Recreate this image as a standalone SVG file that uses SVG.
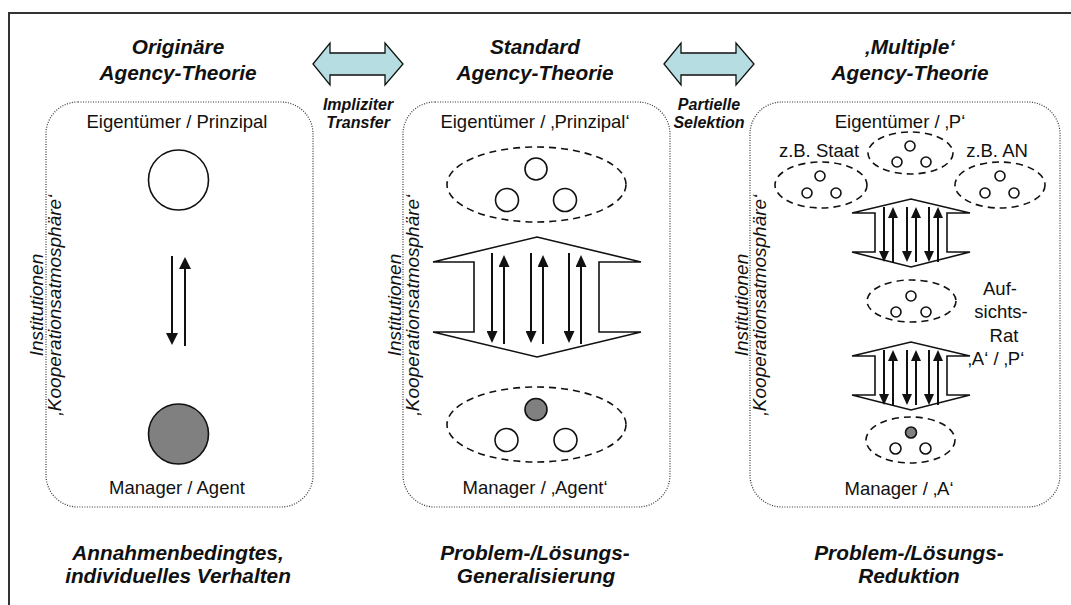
<svg xmlns="http://www.w3.org/2000/svg" width="1071" height="605" viewBox="0 0 1071 605">
<style>
.t{font-family:"Liberation Sans",Arial,sans-serif;font-size:18.5px;fill:#111;text-anchor:middle}
.ti{font-family:"Liberation Sans",Arial,sans-serif;font-size:20.8px;font-weight:bold;font-style:italic;fill:#111;text-anchor:middle}
.sm{font-family:"Liberation Sans",Arial,sans-serif;font-size:16px;font-weight:bold;font-style:italic;fill:#111;text-anchor:middle}
.vt{font-family:"Liberation Sans",Arial,sans-serif;font-size:19px;font-style:italic;fill:#111;text-anchor:middle}
.panel{fill:none;stroke:#333;stroke-width:1.2;stroke-dasharray:1 1.5}
.dash{fill:none;stroke:#111;stroke-width:1.6;stroke-dasharray:7 5}
.wc{fill:#fff;stroke:#111;stroke-width:1.6}
.gc{fill:#808080;stroke:#111;stroke-width:1.6}
.shape{fill:#fff;stroke:#111;stroke-width:1.6;stroke-linejoin:miter}
.dbl{fill:#b6dde1;stroke:#111;stroke-width:1.3}
.a1{stroke:#111;stroke-width:2;fill:none;marker-end:url(#h1)}
.a2{stroke:#111;stroke-width:2;fill:none;marker-end:url(#h2)}
.a3{stroke:#111;stroke-width:2;fill:none;marker-end:url(#h3)}
</style>
<defs>
<marker id="h1" markerUnits="userSpaceOnUse" viewBox="0 0 12 12" refX="8" refY="6" markerWidth="12" markerHeight="12" orient="auto"><path d="M0,0 L12,6 L0,12 z" fill="#111"/></marker>
<marker id="h2" markerUnits="userSpaceOnUse" viewBox="0 0 12 11" refX="8" refY="5.5" markerWidth="12" markerHeight="11" orient="auto"><path d="M0,0 L12,5.5 L0,11 z" fill="#111"/></marker>
<marker id="h3" markerUnits="userSpaceOnUse" viewBox="0 0 11 10" refX="7" refY="5" markerWidth="11" markerHeight="10" orient="auto"><path d="M0,0 L11,5 L0,10 z" fill="#111"/></marker>
</defs>
<rect x="0" y="0" width="1071" height="605" fill="#fff"/>
<rect x="9" y="13" width="1200" height="700" fill="none" stroke="#333" stroke-width="2"/>

<g id="col-left">
<text class="ti" x="178" y="54">Originäre</text>
<text class="ti" x="178" y="80">Agency-Theorie</text>
<rect class="panel" x="46" y="102" width="267" height="405" rx="32" ry="32"/>
<text class="t" x="177" y="128">Eigentümer / Prinzipal</text>
<circle class="wc" cx="178.5" cy="180" r="30"/>
<circle class="gc" cx="178.5" cy="434" r="30"/>
<text class="t" x="177" y="494">Manager / Agent</text>
<text class="vt" transform="translate(43,305) rotate(-90)">Institutionen</text>
<text class="vt" transform="translate(61,305) rotate(-90)">‚Kooperationsatmosphäre‘</text>
<text class="ti" x="178" y="560">Annahmenbedingtes,</text>
<text class="ti" x="178" y="583">individuelles Verhalten</text>
</g>

<g id="col-middle">
<text class="ti" x="535" y="54">Standard</text>
<text class="ti" x="535" y="80">Agency-Theorie</text>
<rect class="panel" x="403" y="102" width="267" height="405" rx="32" ry="32"/>
<text class="t" x="535" y="128">Eigentümer / ‚Prinzipal‘</text>
<ellipse class="dash" cx="536.5" cy="184.5" rx="89.5" ry="37.5"/>
<circle class="wc" cx="536" cy="169" r="11"/>
<circle class="wc" cx="507" cy="200" r="11.5"/>
<circle class="wc" cx="565" cy="200" r="11.5"/>
<polygon class="shape" points="433,262 537,237 641,262 599,262 599,332 641,332 537,357 433,332 474,332 474,262"/>
<ellipse class="dash" cx="536.5" cy="424.5" rx="89.5" ry="37.5"/>
<circle class="gc" cx="536" cy="409.5" r="11"/>
<circle class="wc" cx="506.5" cy="440" r="11.5"/>
<circle class="wc" cx="565.5" cy="440" r="11.5"/>
<text class="t" x="535" y="494">Manager / ‚Agent‘</text>
<text class="vt" transform="translate(401,305) rotate(-90)">Institutionen</text>
<text class="vt" transform="translate(419,305) rotate(-90)">‚Kooperationsatmosphäre‘</text>
<text class="ti" x="535" y="560">Problem-/Lösungs-</text>
<text class="ti" x="536" y="583">Generalisierung</text>
</g>

<g id="col-right">
<text class="ti" x="910" y="54">‚Multiple‘</text>
<text class="ti" x="910" y="80">Agency-Theorie</text>
<rect class="panel" x="750" y="102" width="310" height="405" rx="32" ry="32"/>
<text class="t" x="900" y="128">Eigentümer / ‚P‘</text>
<text class="t" x="819" y="157">z.B. Staat</text>
<text class="t" x="997" y="157">z.B. AN</text>
<ellipse class="dash" cx="910.5" cy="153" rx="42.5" ry="21"/>
<circle class="wc" cx="910" cy="146" r="5"/>
<circle class="wc" cx="897" cy="162" r="5"/>
<circle class="wc" cx="926" cy="162" r="5"/>
<ellipse class="dash" cx="821" cy="185" rx="46" ry="23"/>
<circle class="wc" cx="820" cy="176" r="5"/>
<circle class="wc" cx="807" cy="193" r="5"/>
<circle class="wc" cx="836" cy="193" r="5"/>
<ellipse class="dash" cx="1000" cy="185" rx="45" ry="23"/>
<circle class="wc" cx="1000" cy="176" r="5"/>
<circle class="wc" cx="985" cy="193" r="5"/>
<circle class="wc" cx="1014" cy="193" r="5"/>
<polygon class="shape" points="852,213 911,199 970,213 947,213 947,252 970,252 911,267 852,252 875,252 875,213"/>
<ellipse class="dash" cx="911.5" cy="301" rx="44.5" ry="21"/>
<circle class="wc" cx="911" cy="296" r="5"/>
<circle class="wc" cx="896" cy="312" r="5"/>
<circle class="wc" cx="926" cy="312" r="5"/>
<text class="t" x="1000" y="295">Auf-</text>
<text class="t" x="1001" y="318">sichts-</text>
<text class="t" x="1004" y="342">Rat</text>
<text class="t" x="996" y="365">‚A‘ / ‚P‘</text>
<polygon class="shape" points="852,356 911,342 970,356 947,356 947,395 970,395 911,410 852,395 875,395 875,356"/>
<ellipse class="dash" cx="910.5" cy="440" rx="44.5" ry="23"/>
<circle class="gc" cx="911" cy="432.5" r="5.5"/>
<circle class="wc" cx="895.5" cy="448.5" r="5.5"/>
<circle class="wc" cx="925.5" cy="448.5" r="5.5"/>
<text class="t" x="899" y="495">Manager / ‚A‘</text>
<text class="vt" transform="translate(748,305) rotate(-90)">Institutionen</text>
<text class="vt" transform="translate(766,305) rotate(-90)">‚Kooperationsatmosphäre‘</text>
<text class="ti" x="909" y="560">Problem-/Lösungs-</text>
<text class="ti" x="909" y="583">Reduktion</text>
</g>

<g id="transfer-1">
<polygon class="dbl" points="313,64 330,43 330,53 385,53 385,43 403,64 385,85 385,75 330,75 330,85"/>
<text class="sm" x="358" y="110">Impliziter</text>
<text class="sm" x="358" y="128">Transfer</text>
</g>
<g id="transfer-2">
<polygon class="dbl" points="664,64 681,43 681,53 736,53 736,43 754,64 736,85 736,75 681,75 681,85"/>
<text class="sm" x="709" y="110">Partielle</text>
<text class="sm" x="709" y="128">Selektion</text>
</g>

<g id="connectors">
<line class="a1" x1="172" y1="256" x2="172" y2="341"/>
<line class="a1" x1="185" y1="346" x2="185" y2="261"/>
<line class="a2" x1="492" y1="253" x2="492" y2="339"/>
<line class="a2" x1="504" y1="344" x2="504" y2="259"/>
<line class="a2" x1="531" y1="253" x2="531" y2="339"/>
<line class="a2" x1="543" y1="344" x2="543" y2="259"/>
<line class="a2" x1="569" y1="253" x2="569" y2="339"/>
<line class="a2" x1="581" y1="344" x2="581" y2="259"/>
<line class="a3" x1="884" y1="207" x2="884" y2="258"/>
<line class="a3" x1="893" y1="262" x2="893" y2="211"/>
<line class="a3" x1="907" y1="207" x2="907" y2="258"/>
<line class="a3" x1="916" y1="262" x2="916" y2="211"/>
<line class="a3" x1="929" y1="207" x2="929" y2="258"/>
<line class="a3" x1="938" y1="262" x2="938" y2="211"/>
<line class="a3" x1="884" y1="350" x2="884" y2="401"/>
<line class="a3" x1="893" y1="405" x2="893" y2="354"/>
<line class="a3" x1="907" y1="350" x2="907" y2="401"/>
<line class="a3" x1="916" y1="405" x2="916" y2="354"/>
<line class="a3" x1="929" y1="350" x2="929" y2="401"/>
<line class="a3" x1="938" y1="405" x2="938" y2="354"/>
</g>
</svg>
